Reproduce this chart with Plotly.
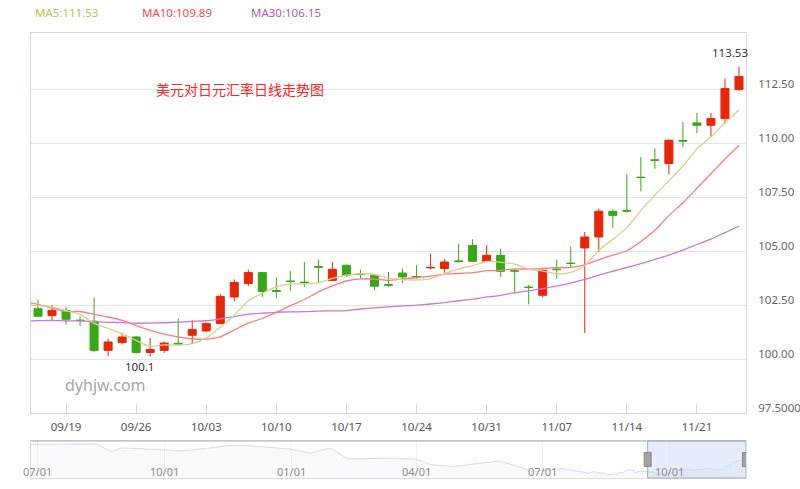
import pandas as pd
import plotly.graph_objects as go

# ---------------- data ----------------
start_date = "2016-09-15"
end_date = "2016-11-24"
prior_start = "2016-08-04"

opens = [102.33, 102.01, 102.25, 101.80, 101.75, 100.40, 100.76, 101.02, 100.30, 100.40,
         100.73, 101.10, 101.30, 101.64, 102.87, 103.49, 104.00, 103.17, 103.61, 103.56,
         104.28, 103.64, 104.34, 103.94, 103.87, 103.44, 103.98, 103.82, 104.22, 104.19,
         104.54, 105.26, 104.52, 104.80, 104.09, 103.33, 102.95, 104.16, 104.44, 105.14,
         105.65, 106.84, 106.87, 108.42, 109.22, 109.05, 110.11, 110.93, 110.82, 111.13,
         112.47]
highs = [102.75, 102.49, 102.41, 101.98, 102.84, 100.94, 101.22, 101.06, 100.97, 100.82,
         101.87, 101.79, 101.69, 103.00, 103.68, 104.14, 104.03, 103.77, 104.07, 104.49,
         104.60, 104.49, 104.37, 104.14, 103.95, 104.03, 104.19, 104.34, 104.88, 104.62,
         105.34, 105.54, 105.26, 105.11, 104.19, 103.44, 104.14, 104.60, 105.22, 105.88,
         106.96, 106.93, 108.55, 109.35, 109.74, 110.17, 110.97, 111.39, 111.39, 112.98,
         113.53]
lows = [101.94, 101.75, 101.59, 101.53, 100.32, 100.14, 100.68, 100.25, 100.10, 100.28,
        100.68, 100.71, 101.25, 101.61, 102.67, 103.38, 102.87, 102.82, 103.15, 103.33,
        103.54, 103.61, 103.80, 103.72, 103.18, 103.33, 103.52, 103.72, 104.14, 104.00,
        104.46, 104.49, 104.49, 103.80, 103.03, 102.53, 102.84, 103.72, 104.26, 101.20,
        104.95, 106.07, 106.78, 107.76, 108.81, 108.55, 109.81, 110.46, 110.28, 110.90,
        112.41]
closes = [101.98, 102.25, 101.84, 101.78, 100.40, 100.79, 101.02, 100.30, 100.44, 100.74,
          100.70, 101.36, 101.64, 102.90, 103.54, 104.00, 103.13, 103.13, 103.59, 103.54,
          104.25, 104.15, 103.88, 103.91, 103.37, 103.42, 103.80, 103.80, 104.24, 104.49,
          104.52, 104.52, 104.80, 104.06, 104.07, 103.31, 104.11, 104.14, 104.42, 105.65,
          106.84, 106.65, 106.85, 108.40, 109.20, 110.13, 110.09, 110.82, 111.13, 112.52,
          113.08]

# closes of the 30 trading days before the visible window (feed the moving averages)
prior_closes = [101.25, 101.80, 102.50, 101.90, 101.30, 101.95, 101.30, 101.20, 100.30, 100.20,
                99.95, 100.20, 100.75, 100.20, 100.50, 100.50, 101.85, 101.90, 102.95, 103.40,
                103.30, 103.95, 103.40, 101.80, 101.75, 102.00, 102.60, 102.70, 102.60, 102.50]

# longer history shown in the navigator (approximate)
history_dates = ["2015-06-26", "2015-07-15", "2015-07-31", "2015-08-12", "2015-08-24",
                 "2015-08-31", "2015-09-15", "2015-09-30", "2015-10-15", "2015-10-30",
                 "2015-11-16", "2015-11-30", "2015-12-15", "2015-12-31", "2016-01-15",
                 "2016-01-29", "2016-02-11", "2016-02-29", "2016-03-15", "2016-03-31",
                 "2016-04-11", "2016-04-29", "2016-05-13", "2016-05-31", "2016-06-15",
                 "2016-06-24", "2016-06-30", "2016-07-15", "2016-07-29"]
history_values = [123.9, 123.9, 123.9, 124.4, 118.4, 121.2, 120.4, 119.9, 118.9, 120.6,
                  123.0, 123.1, 121.6, 120.2, 117.0, 121.1, 112.4, 112.7, 113.1, 112.4,
                  107.9, 106.5, 108.6, 110.7, 106.0, 102.2, 103.2, 104.9, 102.1]

ytick_vals = [97.5, 100, 102.5, 105, 107.5, 110, 112.5]
ytick_text = ["97.5000", "100.00", "102.50", "105.00", "107.50", "110.00", "112.50"]
nav_tick_dates = ["2015-07-01", "2015-10-01", "2016-01-01", "2016-04-01", "2016-07-01", "2016-10-01"]
nav_tick_text = ["07/01", "10/01", "01/01", "04/01", "07/01", "10/01"]
title_text = "美元对日元汇率日线走势图"
watermark = "dyhjw.com"

# ---------------- derived ----------------
dates = pd.bdate_range(start_date, end_date)
prior_dates = pd.bdate_range(prior_start, periods=len(prior_closes))
n = len(closes)
xi = list(range(n))

all_close = pd.Series(prior_closes + closes)
all_x = list(range(-len(prior_closes), n))
ma5 = all_close.rolling(5).mean()
ma10 = all_close.rolling(10).mean()
ma30 = all_close.rolling(30).mean()

tickvals = [i for i, d in enumerate(dates) if d.weekday() == 0]
ticktext = [dates[i].strftime("%m/%d") for i in tickvals]

RED = "#e2290b"
GREEN = "#3aa71b"
C5, C10, C30 = "#d6d08a", "#ff7b7b", "#c77ad2"
FONT = "Noto Sans, Noto Sans CJK SC, sans-serif"

fig = go.Figure()
fig.add_trace(go.Candlestick(
    x=xi, open=opens, high=highs, low=lows, close=closes,
    increasing=dict(line=dict(color=RED, width=1), fillcolor=RED),
    decreasing=dict(line=dict(color=GREEN, width=1), fillcolor=GREEN),
    whiskerwidth=0, xaxis="x", yaxis="y", hoverinfo="skip"))

for ser, col in [(ma30, C30), (ma10, C10), (ma5, C5)]:
    xs = [x for x, v in zip(all_x, ser) if x >= -2 and pd.notna(v)]
    ys = [v for x, v in zip(all_x, ser) if x >= -2 and pd.notna(v)]
    fig.add_trace(go.Scatter(x=xs, y=ys, mode="lines",
                             line=dict(color=col, width=1.3, shape="spline", smoothing=0.6),
                             xaxis="x", yaxis="y", hoverinfo="skip"))

# navigator
nav_x = list(pd.to_datetime(history_dates)) + list(prior_dates) + list(dates)
nav_y = history_values + prior_closes + closes
fig.add_trace(go.Scatter(x=nav_x, y=nav_y, mode="lines",
                         line=dict(color="#d5dde8", width=1),
                         fill="tozeroy", fillcolor="rgba(215,225,238,0.18)",
                         xaxis="x2", yaxis="y2", hoverinfo="skip"))

MAIN_BOTTOM = 65 / 445
NAV_TOP = 37 / 445
AX = "#cfd8e6"

fig.update_layout(
    width=800, height=489,
    margin=dict(l=31, r=54, t=33, b=11, autoexpand=False),
    paper_bgcolor="white", plot_bgcolor="white",
    showlegend=False,
    boxgap=0.18, boxgroupgap=0.3,
    font=dict(family=FONT, size=11.5, color="#555"),
    xaxis=dict(domain=[0, 1], anchor="y", range=[-0.5, n - 0.5],
               tickvals=tickvals, ticktext=ticktext,
               ticks="inside", ticklen=9, tickcolor=AX,
               showgrid=False, zeroline=False, automargin=False,
               showline=True, mirror=True, linecolor=AX,
               ticklabelstandoff=3,
               tickfont=dict(size=11.5, color="#555"),
               rangeslider=dict(visible=False)),
    yaxis=dict(domain=[MAIN_BOTTOM, 1], anchor="x", side="right",
               range=[97.5, 97.5 + 380 * 2.5 / 54],
               tickvals=ytick_vals, ticktext=ytick_text, automargin=False,
               ticks="", showgrid=True, gridcolor="#e4e4e4",
               zeroline=False, showline=True, mirror=True, linecolor=AX,
               ticklabelstandoff=9, ticklabelshift=-5,
               tickfont=dict(size=11.5, color="#666")),
    xaxis2=dict(domain=[0, 1], anchor="y2", type="date",
                range=["2015-06-26 12:00", "2016-11-25 12:00"],
                tickvals=nav_tick_dates, showticklabels=False, ticks="",
                showgrid=True, gridcolor="#f0f0f0", automargin=False,
                showline=True, mirror=True, linecolor="#dddddd", zeroline=False),
    yaxis2=dict(domain=[0, NAV_TOP], anchor="x2", range=[97.4, 126.6],
                showgrid=False, showticklabels=False, ticks="", automargin=False,
                showline=True, mirror=True, linecolor="#dddddd", zeroline=False),
)

shapes = [
    # navigator top border
    dict(type="line", xref="paper", yref="paper", x0=0, x1=1, y0=NAV_TOP, y1=NAV_TOP,
         line=dict(color="#b0b0b0", width=1)),
    # selected window
    dict(type="rect", xref="x2", yref="y2 domain", x0=dates[0].strftime("%Y-%m-%d") + " 06:00",
         x1="2016-11-25 12:00", y0=0, y1=1,
         fillcolor="rgba(195,215,242,0.45)", line=dict(color="#aaaaaa", width=1)),
]
for hx in [dates[0].strftime("%Y-%m-%d") + " 06:00", "2016-11-25 12:00"]:
    shapes.append(dict(type="rect", xref="x2", yref="y2 domain", xsizemode="pixel",
                       xanchor=hx, x0=-3.5, x1=3.5, y0=0.31, y1=0.69,
                       fillcolor="#a3a3a3", line=dict(color="#8a8a8a", width=1)))
fig.update_layout(shapes=shapes)

def px_x(p):
    return (p - 31) / 715

def px_y(p):
    return (478 - p) / 445

last_ma = [("MA5", ma5.iloc[-1], "#bcbc50"), ("MA10", ma10.iloc[-1], "#f64a4a"),
           ("MA30", ma30.iloc[-1], "#b659c2")]
legend_left = [33, 140, 249]
ann = []
for (name, val, col), lx in zip(last_ma, legend_left):
    ann.append(dict(text=f"{name}:{val:.2f}", xref="paper", yref="paper",
                    x=px_x(lx), y=px_y(12), xanchor="left", yanchor="middle",
                    showarrow=False, font=dict(size=11.5, color=col)))
ann.append(dict(text=title_text, xref="paper", yref="paper", x=px_x(240), y=px_y(89),
                xanchor="center", yanchor="middle", showarrow=False,
                font=dict(family="Noto Sans CJK SC", size=14, color="#ff2424")))
ann.append(dict(text=watermark, xref="paper", yref="paper", x=px_x(105), y=px_y(385),
                xanchor="center", yanchor="middle", showarrow=False,
                font=dict(size=16, color="#a8a8a8")))
imax = highs.index(max(highs))
imin = lows.index(min(lows))
ann.append(dict(text=f"{highs[imax]:g}", x=imax, y=highs[imax], xref="x", yref="y",
                xanchor="center", yanchor="bottom", xshift=-9, yshift=5,
                showarrow=False, font=dict(size=11.5, color="#333")))
ann.append(dict(text=f"{lows[imin]:g}", x=imin, y=lows[imin], xref="x", yref="y",
                xanchor="center", yanchor="top", xshift=-11, yshift=0,
                showarrow=False, font=dict(size=11.5, color="#333")))
for d, t in zip(nav_tick_dates, nav_tick_text):
    ann.append(dict(text=t, x=d, xref="x2", y=px_y(471), yref="paper",
                    xanchor="center", yanchor="middle", showarrow=False,
                    font=dict(size=11, color="#8c8c8c")))
fig.update_layout(annotations=ann)

fig.write_html("out.html")
